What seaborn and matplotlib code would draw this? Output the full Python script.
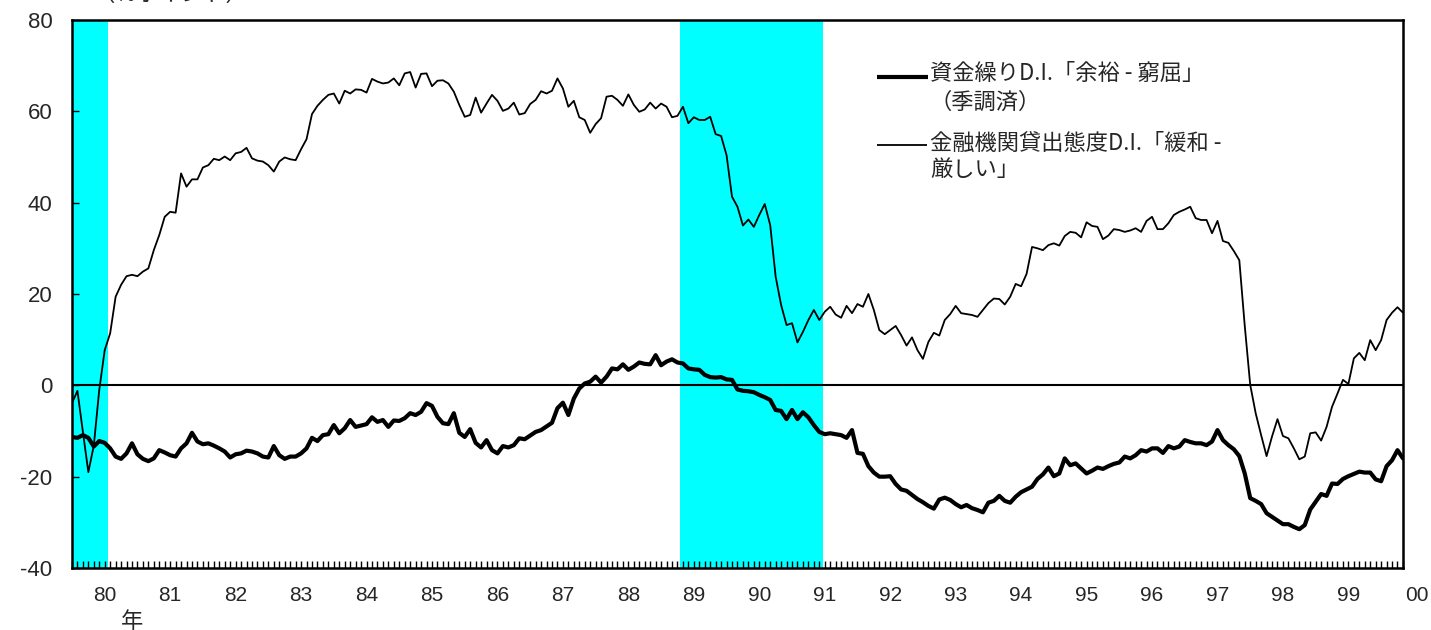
import numpy as np
import pandas as pd
import matplotlib
matplotlib.use('Agg')
import matplotlib.pyplot as plt
import matplotlib.transforms as mtransforms
import seaborn as sns

# monthly values, first point = Jul 1979, last = Nov 1999
lending_di = [
    -3.9, -1.2, -10.2, -19.0, -13.2, -1.0, 7.7, 11.4, 19.4, 22.0, 23.9, 24.2,
    23.9, 24.9, 25.6, 29.6, 32.9, 36.9, 38.0, 37.8, 46.4, 43.5, 45.1, 45.1,
    47.7, 48.2, 49.6, 49.3, 50.1, 49.3, 50.8, 51.1, 52.0, 49.7, 49.2, 49.0,
    48.2, 46.8, 49.0, 49.9, 49.5, 49.3, 51.7, 53.9, 59.4, 61.2, 62.5, 63.6,
    63.9, 61.7, 64.5, 63.9, 64.8, 64.7, 64.1, 67.1, 66.5, 66.1, 66.3, 67.2,
    65.7, 68.3, 68.6, 65.2, 68.2, 68.3, 65.5, 66.7, 66.8, 66.1, 64.3, 61.4,
    58.8, 59.2, 63.0, 59.7, 61.7, 63.6, 62.3, 60.1, 60.6, 61.9, 59.3, 59.6,
    61.6, 62.5, 64.4, 63.9, 64.5, 67.2, 65.0, 61.0, 62.3, 58.7, 58.1, 55.3,
    57.2, 58.5, 63.2, 63.4, 62.5, 61.2, 63.7, 61.4, 59.9, 60.4, 61.9, 60.6,
    61.7, 61.0, 58.7, 59.0, 61.0, 57.4, 58.7, 58.1, 58.1, 58.8, 55.0, 54.6,
    50.4, 41.3, 39.1, 35.0, 36.3, 34.7, 37.3, 39.7, 35.1, 23.8, 17.6, 13.2,
    13.6, 9.4, 11.7, 14.3, 16.5, 14.3, 16.1, 17.2, 15.5, 14.8, 17.4, 15.8,
    17.8, 17.2, 20.0, 16.5, 12.1, 11.2, 12.1, 13.0, 11.0, 8.7, 10.5, 7.7,
    5.8, 9.5, 11.5, 10.9, 14.3, 15.6, 17.4, 15.8, 15.6, 15.4, 15.0, 16.5,
    18.0, 19.0, 18.9, 17.7, 19.4, 22.2, 21.7, 24.4, 30.3, 30.0, 29.6, 30.7,
    31.1, 30.6, 32.7, 33.6, 33.4, 32.4, 35.7, 34.9, 34.7, 32.0, 32.8, 34.2,
    34.0, 33.6, 33.9, 34.4, 33.6, 36.0, 36.9, 34.2, 34.2, 35.5, 37.3, 38.0,
    38.5, 39.1, 36.6, 36.2, 36.2, 33.3, 36.0, 31.6, 31.2, 29.4, 27.4, 13.0,
    0.1, -6.1, -10.9, -15.5, -11.2, -7.4, -11.1, -11.6, -13.8, -16.2, -15.6, -10.5,
    -10.3, -12.1, -9.1, -4.7, -1.8, 1.2, 0.3, 5.9, 7.1, 5.5, 9.9, 7.7,
    9.9, 14.3, 15.9, 17.1, 15.9,
]

cash_di = [
    -11.3, -11.5, -10.9, -11.5, -13.4, -12.2, -12.6, -13.8, -15.6, -16.1, -14.9, -12.7,
    -15.1, -16.1, -16.6, -16.0, -14.2, -14.7, -15.3, -15.6, -13.8, -12.7, -10.4, -12.3,
    -12.9, -12.7, -13.2, -13.8, -14.5, -15.8, -15.1, -14.9, -14.3, -14.5, -14.9, -15.6,
    -15.8, -13.3, -15.3, -16.1, -15.6, -15.6, -14.9, -13.8, -11.5, -12.2, -10.9, -10.7,
    -8.7, -10.5, -9.4, -7.6, -9.1, -8.8, -8.5, -7.0, -8.0, -7.6, -9.1, -7.7,
    -7.8, -7.2, -6.1, -6.5, -5.8, -3.9, -4.5, -6.9, -8.3, -8.5, -6.1, -10.4,
    -11.3, -9.6, -12.6, -13.6, -12.0, -14.2, -14.9, -13.3, -13.6, -13.1, -11.6, -11.8,
    -11.0, -10.2, -9.8, -9.0, -8.2, -5.0, -3.8, -6.5, -2.9, -0.7, 0.4, 0.8,
    1.9, 0.6, 1.9, 3.7, 3.5, 4.6, 3.4, 4.1, 5.0, 4.7, 4.6, 6.6,
    4.4, 5.2, 5.7, 5.0, 4.8, 3.7, 3.5, 3.4, 2.3, 1.8, 1.7, 1.8,
    1.3, 1.2, -0.9, -1.2, -1.3, -1.5, -2.1, -2.6, -3.2, -5.4, -5.6, -7.4,
    -5.4, -7.4, -5.9, -7.0, -8.7, -10.2, -10.7, -10.5, -10.7, -10.9, -11.5, -9.8,
    -14.8, -15.0, -17.7, -19.1, -20.0, -20.0, -19.9, -21.6, -22.8, -23.1, -24.0, -24.9,
    -25.6, -26.4, -27.0, -25.0, -24.6, -25.1, -26.0, -26.7, -26.2, -26.9, -27.3, -27.8,
    -25.7, -25.3, -24.2, -25.3, -25.7, -24.4, -23.4, -22.8, -22.2, -20.5, -19.5, -18.0,
    -19.9, -19.3, -16.0, -17.5, -17.1, -18.2, -19.3, -18.7, -18.0, -18.3, -17.7, -17.2,
    -16.9, -15.6, -16.0, -15.3, -14.2, -14.5, -13.8, -13.8, -14.8, -13.3, -13.8, -13.4,
    -12.0, -12.4, -12.7, -12.7, -13.1, -12.3, -9.8, -12.0, -13.1, -14.0, -15.5, -19.3,
    -24.7, -25.3, -26.0, -28.0, -28.8, -29.6, -30.4, -30.4, -31.0, -31.5, -30.6, -27.2,
    -25.5, -23.8, -24.2, -21.5, -21.6, -20.5, -19.9, -19.4, -18.9, -19.1, -19.1, -20.6,
    -21.0, -17.7, -16.4, -14.2, -16.0,
]

year_labels = ['80', '81', '82', '83', '84', '85', '86', '87', '88', '89',
               '90', '91', '92', '93', '94', '95', '96', '97', '98', '99']
# shaded periods, in months from Jul 1979
shade_spans = [(0, 6.65), (111.45, 137.6)]

label_cash = '資金繰りD.I.「余裕 - 窮屈」'
label_cash2 = '（季調済）'
label_lend = '金融機関貸出態度D.I.「緩和 -'
label_lend2 = '厳しい」'

months = np.arange(len(lending_di))
df = pd.DataFrame({'month': months, 'lending': lending_di, 'cash': cash_di})

sns.set_theme(style='white')
plt.rcParams['font.family'] = ['Liberation Sans', 'DejaVu Sans']
plt.rcParams['axes.unicode_minus'] = False
jp = ['Noto Sans CJK JP', 'DejaVu Sans']

fig = plt.figure(figsize=(14.31, 6.3), dpi=100)
ax = fig.add_axes([0.0503, 0.0984, 0.9301, 0.8699])

for a, b in shade_spans:
    ax.axvspan(a, b, color='#00FFFF', lw=0, zorder=0)
ax.axhline(0, color='black', lw=1.5, zorder=1)

sns.lineplot(data=df, x='month', y='lending', color='black', lw=1.3,
             estimator=None, ax=ax, zorder=3)
sns.lineplot(data=df, x='month', y='cash', color='black', lw=3.0,
             estimator=None, ax=ax, zorder=3)

ax.set_xlim(0, len(months) - 1)
ax.set_ylim(-40, 80)
ax.set_yticks(np.arange(-40, 81, 20))
ax.set_xticks([6 + 12 * k for k in range(len(year_labels))])
ax.set_xticklabels(year_labels)
ax.set_xticks(months, minor=True)
ax.set_xlabel('')
ax.set_ylabel('')
ax.tick_params(axis='x', which='both', direction='in', length=5, width=1,
               color='black', bottom=True, pad=13, labelsize=15)
ax.tick_params(axis='y', direction='in', length=5, width=1, color='black',
               left=True, pad=14, labelsize=16)
for s in ax.spines.values():
    s.set_color('black')
    s.set_linewidth(1.8)

# the '00' label sits just outside the axis range
trans = mtransforms.blended_transform_factory(ax.transData, ax.transAxes)
ax.text(246.5, -0.0328, '00', transform=trans, ha='center', va='top',
        fontsize=15, clip_on=False)

# legend drawn by hand so the sample lines align with the first text line
ax.plot([0.6046, 0.6431], [0.8965, 0.8965], transform=ax.transAxes,
        color='black', lw=3.0, solid_capstyle='butt')
ax.plot([0.6046, 0.6422], [0.7719, 0.7719], transform=ax.transAxes,
        color='black', lw=1.3, solid_capstyle='butt')
ax.text(0.6446, 0.9015, label_cash, transform=ax.transAxes, va='center',
        fontsize=16, family=jp)
ax.text(0.6446, 0.8504, label_cash2, transform=ax.transAxes, va='center',
        fontsize=16, family=jp)
ax.text(0.6446, 0.7755, label_lend, transform=ax.transAxes, va='center',
        fontsize=16, family=jp)
ax.text(0.6446, 0.7263, label_lend2, transform=ax.transAxes, va='center',
        fontsize=16, family=jp)

fig.text(93 / 1431, 1.0095, '（％ポイント）', ha='left', va='center',
         fontsize=16, family=jp)
fig.text(132 / 1431, 1 - 621 / 630, '年', ha='center', va='center',
         fontsize=16, family=jp)

fig.savefig('out.png', dpi=100)
